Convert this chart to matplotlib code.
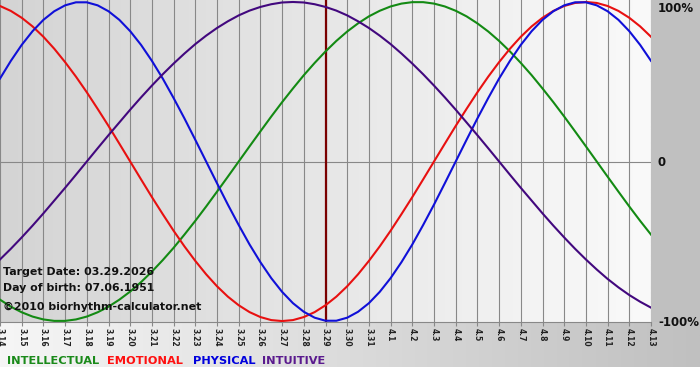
import numpy as np
import matplotlib.pyplot as plt
from matplotlib.colors import LinearSegmentedColormap
from matplotlib.patches import Rectangle

# day labels along the bottom (3.14 .. 4.13)
days = ['3.14', '3.15', '3.16', '3.17', '3.18', '3.19', '3.20', '3.21', '3.22', '3.23',
        '3.24', '3.25', '3.26', '3.27', '3.28', '3.29', '3.30', '3.31', '4.1', '4.2',
        '4.3', '4.4', '4.5', '4.6', '4.7', '4.8', '4.9', '4.10', '4.11', '4.12', '4.13']

# values every half day (-1 .. 1), from 3.14 to 4.13
intellectual = [-0.866, -0.910, -0.945, -0.972, -0.990, -0.999, -0.999, -0.990, -0.972, -0.945,
                -0.910, -0.866, -0.815, -0.756, -0.690, -0.618, -0.541, -0.458, -0.372, -0.282,
                -0.189, -0.095, 0.000, 0.095, 0.189, 0.282, 0.372, 0.458, 0.541, 0.618,
                0.690, 0.756, 0.815, 0.866, 0.910, 0.945, 0.972, 0.990, 0.999, 0.999,
                0.990, 0.972, 0.945, 0.910, 0.866, 0.815, 0.756, 0.690, 0.618, 0.541,
                0.458, 0.372, 0.282, 0.189, 0.095, 0.000, -0.095, -0.189, -0.282, -0.372, -0.458]
emotional = [0.975, 0.944, 0.901, 0.847, 0.782, 0.707, 0.623, 0.532, 0.434, 0.330,
             0.223, 0.112, 0.000, -0.112, -0.223, -0.330, -0.434, -0.532, -0.623, -0.707,
             -0.782, -0.847, -0.901, -0.944, -0.975, -0.994, -1.000, -0.994, -0.975, -0.944,
             -0.901, -0.847, -0.782, -0.707, -0.623, -0.532, -0.434, -0.330, -0.223, -0.112,
             0.000, 0.112, 0.223, 0.330, 0.434, 0.532, 0.623, 0.707, 0.782, 0.847,
             0.901, 0.944, 0.975, 0.994, 1.000, 0.994, 0.975, 0.944, 0.901, 0.847, 0.782]
physical = [0.520, 0.631, 0.731, 0.817, 0.888, 0.942, 0.979, 0.998, 0.998, 0.979,
            0.942, 0.888, 0.817, 0.731, 0.631, 0.520, 0.398, 0.270, 0.136, 0.000,
            -0.136, -0.270, -0.398, -0.520, -0.631, -0.731, -0.817, -0.888, -0.942, -0.979,
            -0.998, -0.998, -0.979, -0.942, -0.888, -0.817, -0.731, -0.631, -0.520, -0.398,
            -0.270, -0.136, 0.000, 0.136, 0.270, 0.398, 0.520, 0.631, 0.731, 0.817,
            0.888, 0.942, 0.979, 0.998, 0.998, 0.979, 0.942, 0.888, 0.817, 0.731, 0.631]
intuitive = [-0.614, -0.547, -0.476, -0.402, -0.325, -0.245, -0.165, -0.083, 0.000, 0.083,
             0.165, 0.245, 0.325, 0.402, 0.476, 0.547, 0.614, 0.677, 0.736, 0.789,
             0.837, 0.879, 0.916, 0.946, 0.969, 0.986, 0.997, 1.000, 0.997, 0.986,
             0.969, 0.946, 0.916, 0.879, 0.837, 0.789, 0.736, 0.677, 0.614, 0.547,
             0.476, 0.402, 0.325, 0.245, 0.165, 0.083, 0.000, -0.083, -0.165, -0.245,
             -0.325, -0.402, -0.476, -0.547, -0.614, -0.677, -0.736, -0.789, -0.837, -0.879, -0.916]

target_day = '3.29'

W, H = 700, 380
fig = plt.figure(figsize=(7, 3.8), dpi=100)
fig.patch.set_facecolor('white')

# page background: grey margin on the right, gradient strip at the bottom
bg = fig.add_axes([0, 0, 1, 1], zorder=0)
grad = np.linspace(0, 1, 256).reshape(1, -1)
strip_cmap = LinearSegmentedColormap.from_list('strip', ['#f6f6f6', '#c0c0c0'])
bg.imshow(grad, extent=(0, W, 367, 322), cmap=strip_cmap, aspect='auto')
bg.add_patch(Rectangle((651, 0), W - 651, 322, color='#c0c0c0', lw=0))
bg.set_xlim(0, W)
bg.set_ylim(H, 0)
bg.axis('off')

# plot area
ax = fig.add_axes([0, 1 - 322 / H, 651 / W, 322 / H], zorder=1)
x = np.arange(len(days))
t = np.arange(2 * len(days) - 1) / 2   # half-day positions of the readings
ytop, ybot = 1.0125, -1.006
plot_cmap = LinearSegmentedColormap.from_list('plot', ['#d4d4d4', '#fafafa'])
ax.imshow(grad, extent=(0, len(days) - 1, ybot, ytop), cmap=plot_cmap,
          aspect='auto', zorder=0)
ax.set_xlim(0, len(days) - 1)
ax.set_ylim(ybot, ytop)

ax.set_xticks(x)
ax.set_xticklabels(days, rotation=270, fontsize=5.5, fontweight='bold', color='#222222')
ax.tick_params(axis='x', direction='out', length=3, width=0.8, color='#888888', pad=1.5)
ax.set_yticks([])
ax.xaxis.grid(True, color='#888888', lw=0.8)
ax.set_axisbelow(True)
ax.axhline(0, color='#888888', lw=0.8, zorder=1)
for s in ['top', 'left', 'right']:
    ax.spines[s].set_visible(False)
ax.spines['bottom'].set_color('#888888')
ax.spines['bottom'].set_linewidth(0.8)

ax.axvline(days.index(target_day), color='#7a0000', lw=1.6, zorder=2)

for vals, col in [(intellectual, '#138a13'), (emotional, '#e81010'),
                  (physical, '#1010d8'), (intuitive, '#42087e')]:
    ax.plot(t, vals, color=col, lw=1.5, zorder=3, solid_joinstyle='round')

# right-hand scale
for lab, py in [('100%', 8), ('0', 162), ('-100%', 322)]:
    fig.text(658 / W, 1 - py / H, lab, ha='left', va='center',
             fontsize=8.5, fontweight='bold', color='#111111')

# info text
info = ['Target Date: 03.29.2026', 'Day of birth: 07.06.1951', '\u00a92010 biorhythm-calculator.net']
for txt, py in zip(info, [272, 288, 307]):
    fig.text(3 / W, 1 - py / H, txt, ha='left', va='center',
             fontsize=7.9, fontweight='bold', color='#111111', zorder=5)

# legend words
legend = [('INTELLECTUAL', '#1a8a1a', 7), ('EMOTIONAL', '#ff1010', 107),
          ('PHYSICAL', '#0000dd', 193), ('INTUITIVE', '#5a1a8e', 262)]
for word, col, px in legend:
    fig.text(px / W, 1 - 361 / H, word, ha='left', va='center',
             fontsize=8.2, fontweight='bold', color=col)

fig.savefig('out.png', dpi=100, facecolor=fig.get_facecolor())
